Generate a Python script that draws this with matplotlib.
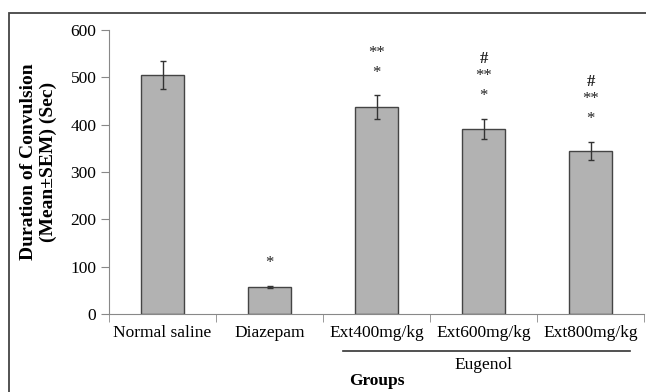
import matplotlib.pyplot as plt
from matplotlib.patches import Rectangle
from matplotlib.lines import Line2D

# data
groups = ["Normal saline", "Diazepam", "Ext400mg/kg", "Ext600mg/kg", "Ext800mg/kg"]
means = [505, 57, 437, 391, 345]
sem = [30, 3, 25, 22, 19]
marks = [[], ["*"], ["*", "**"], ["*", "**", "#"], ["*", "**", "#"]]

plt.rcParams["font.family"] = ["Liberation Serif", "DejaVu Serif"]

fig = plt.figure(figsize=(6.46, 3.92), dpi=100)
# outer frame (right and bottom edges are cropped in the original)
fig.patches.append(Rectangle((9 / 646, -0.05), 1.05, 1 - 13 / 392 + 0.05,
                             transform=fig.transFigure, fill=False,
                             edgecolor="#444444", linewidth=1.3))

ax = fig.add_axes([109 / 646, 1 - 314 / 392, 535 / 646, 284 / 392])
x = range(len(groups))
ax.bar(x, means, width=0.40, color="#b2b2b2", edgecolor="#444444", linewidth=1.0,
       yerr=sem, capsize=2.5, error_kw=dict(ecolor="#333333", elinewidth=1.0, capthick=1.0))

# significance marks stacked above the error bars
for i, m in enumerate(marks):
    y = means[i] + sem[i] + 48
    for k, s in enumerate(m):
        if s == "#":
            y -= 6
        ax.text(i, y, s, ha="center", va="center", fontsize=12,
                fontweight="bold" if s == "#" else "normal", color="#222222")
        y += 42

ax.set_xlim(-0.5, 4.5)
ax.set_ylim(0, 600)
ax.set_yticks(range(0, 601, 100))
ax.set_xticks(list(x))
ax.set_xticklabels(groups, fontsize=12.5)
ax.set_xticks([i - 0.5 for i in range(6)], minor=True)
ax.tick_params(axis="x", which="major", length=0, pad=8)
ax.tick_params(axis="x", which="minor", length=6, color="#888888", direction="out")
ax.tick_params(axis="y", labelsize=12.5, length=6, color="#888888", pad=3)
for side in ["top", "right"]:
    ax.spines[side].set_visible(False)
for side in ["left", "bottom"]:
    ax.spines[side].set_color("#888888")

ax.set_ylabel("Duration of Convulsion\n(Mean±SEM) (Sec)", fontsize=14,
              fontweight="bold", linespacing=1.15)
ax.yaxis.set_label_coords(-0.098, 0.535)

# Eugenol bracket under the extract groups
fig.add_artist(Line2D([343 / 646, 630 / 646], [1 - 351 / 392] * 2,
                      transform=fig.transFigure, color="#333333", linewidth=1.2))
fig.text(483 / 646, 1 - 365 / 392, "Eugenol", ha="center", va="center", fontsize=12.5)
fig.text(377 / 646, 1 - 381 / 392, "Groups", ha="center", va="center",
         fontsize=12.5, fontweight="bold")

fig.savefig("out.png", dpi=100)
